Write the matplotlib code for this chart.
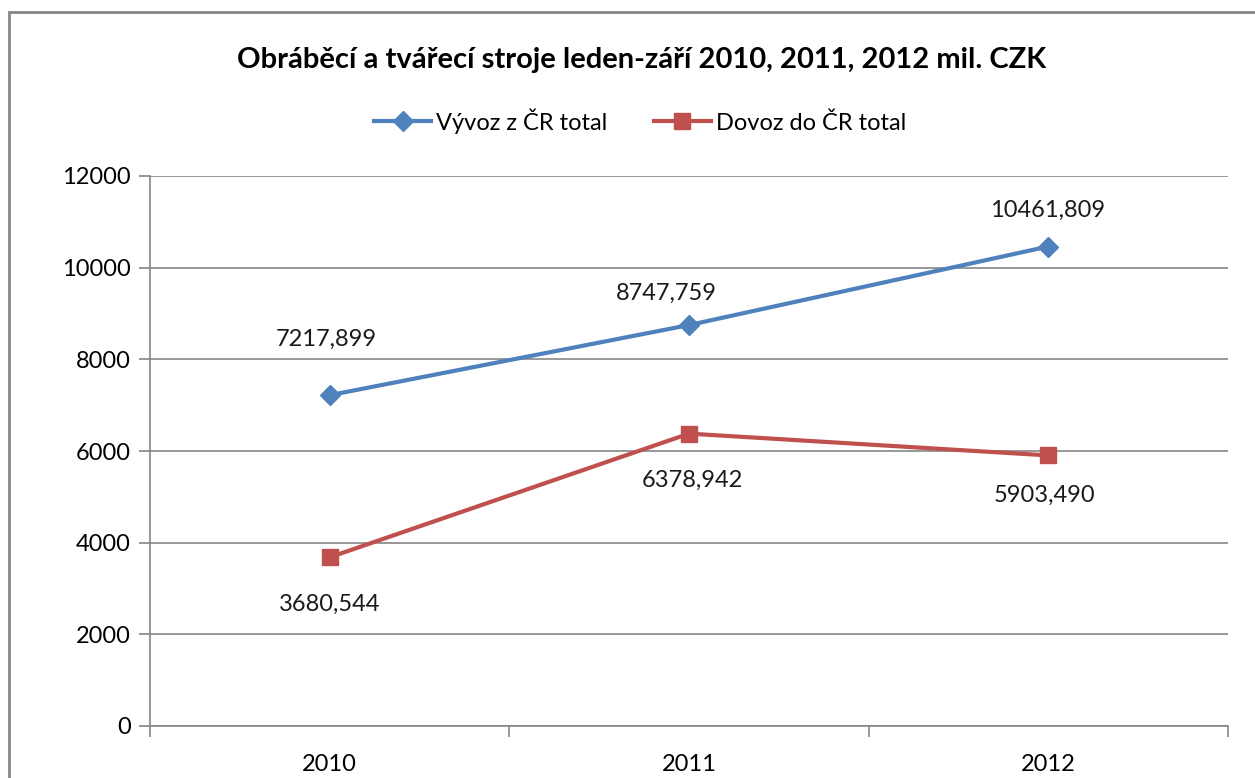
import matplotlib.pyplot as plt
from matplotlib.patches import Rectangle

plt.rcParams['font.family'] = ['Lato', 'DejaVu Sans']

years = ['2010', '2011', '2012']
vyvoz = [7217.899, 8747.759, 10461.809]
dovoz = [3680.544, 6378.942, 5903.490]
vyvoz_labels = ['7217,899', '8747,759', '10461,809']
dovoz_labels = ['3680,544', '6378,942', '5903,490']

blue = '#4F81BD'
red = '#C0504D'
fs = 17

fig = plt.figure(figsize=(12.55, 7.78), dpi=100)
ax = fig.add_axes([150 / 1255, 52 / 778, 1078 / 1255, 550 / 778])

x = range(len(years))
ax.plot(x, vyvoz, color=blue, lw=3, marker='D', ms=10, label='Vývoz z ČR total')
ax.plot(x, dovoz, color=red, lw=3, marker='s', ms=12, label='Dovoz do ČR total')

# popisky hodnot (posuny v pixelech podle predlohy)
v_off = [(-3, 56), (-23, 32), (-1, 36)]
d_off = [(0, -47), (3, -47), (-4, -40)]
for i in x:
    ax.annotate(vyvoz_labels[i], (i, vyvoz[i]), xytext=v_off[i], textcoords='offset pixels',
                ha='center', va='center', fontsize=fs, color='#1a1a1a')
    ax.annotate(dovoz_labels[i], (i, dovoz[i]), xytext=d_off[i], textcoords='offset pixels',
                ha='center', va='center', fontsize=fs, color='#1a1a1a')

ax.set_xlim(-0.5, 2.5)
ax.set_ylim(0, 12000)
ax.set_yticks(range(0, 12001, 2000))
ax.set_xticks([-0.5, 0.5, 1.5, 2.5])
ax.set_xticklabels([])
ax.set_xticks(list(x), minor=True)
ax.set_xticklabels(years, minor=True)
ax.tick_params(axis='x', which='minor', length=0, pad=20, labelsize=fs)
ax.tick_params(axis='x', which='major', length=8, color='#868686', width=1.2)
ax.tick_params(axis='y', length=8, color='#868686', width=1.2, pad=6, labelsize=fs)
ax.grid(axis='y', color='#868686', lw=1.2)
ax.set_axisbelow(True)
for s in ['top', 'right']:
    ax.spines[s].set_visible(False)
for s in ['left', 'bottom']:
    ax.spines[s].set_color('#868686')
    ax.spines[s].set_linewidth(1.2)

fig.text(0.511, 1 - 60 / 778, 'Obráběcí a tvářecí stroje leden-září 2010, 2011, 2012 mil. CZK',
         ha='center', va='center', fontsize=21, fontweight='bold')
fig.legend(loc='center', bbox_to_anchor=(0.51, 1 - 121 / 778), ncol=2, frameon=False,
           fontsize=fs, handlelength=2.4, columnspacing=2.0, handletextpad=0.2)

fig.patches.append(Rectangle((9 / 1255, -0.1), 1.1, 1.1 - 12 / 778, transform=fig.transFigure,
                             fill=False, edgecolor='#868686', lw=2))

fig.savefig('out.png', dpi=100)
